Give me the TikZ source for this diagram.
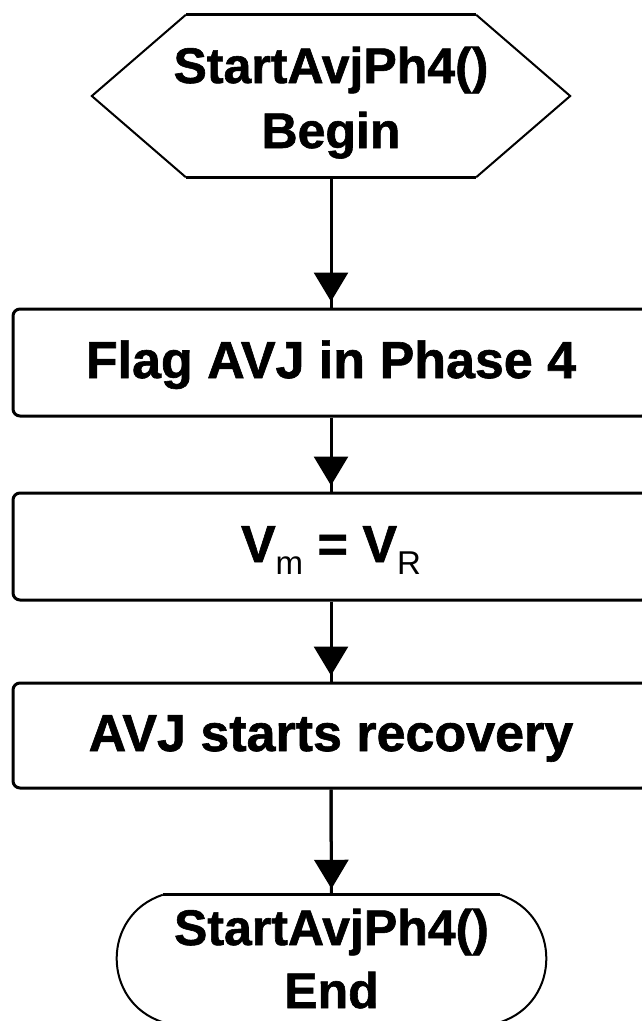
\documentclass[tikz,border=0pt]{standalone}
\usepackage{fontspec}
\usepackage{graphicx}
\setmainfont{Liberation Sans}[BoldFeatures={FakeBold=1.2}]
\usetikzlibrary{arrows.meta,calc}
\tikzset{
  stepbox/.style={draw, line width=3pt, rounded corners=7pt, minimum width=636pt,
    minimum height=107pt, inner sep=0pt, font=\fontsize{52}{60}\selectfont\bfseries,
    text height=38pt, text depth=7pt},
  shapetext/.style={inner sep=0pt, font=\fontsize{50}{65}\selectfont\bfseries},
  thickedge/.style={line width=3pt},
  thinedge/.style={line width=2pt},
  flow/.style={line width=3pt,
    postaction={draw, -{Triangle[width=34pt,length=29pt]}, shorten >=6pt}},
}
\newcommand{\lowsub}[1]{\raisebox{-12pt}{\fontsize{33}{33}\selectfont\mdseries #1}}
\begin{document}
\begin{tikzpicture}[x=1pt,y=-1pt]
\useasboundingbox (0,0) rectangle (642,1021);
% start hexagon
\node[shapetext, minimum width=290pt, minimum height=162pt] (h) at (331,96)
  {\makebox[0pt]{\raisebox{0pt}[40pt][66pt]{\begin{tabular}[t]{@{}c@{}}StartAvjPh4()\\Begin\end{tabular}}}};
\draw[thickedge] (h.north west) -- (h.north east) (h.south west) -- (h.south east);
\draw[thinedge] (h.north east) -- ($(h.east)+(94,0)$) -- (h.south east)
                (h.north west) -- ($(h.west)+(-94,0)$) -- (h.south west);
% process boxes
\node[stepbox] (b1) at (331,362.5) {Flag AVJ in Phase 4};
\node[stepbox] (b2) at (331,546.5) {V\lowsub{m} = V\lowsub{R}};
\node[stepbox, minimum height=105pt] (b3) at (331,735.5) {AVJ starts recovery};
% end terminator
\node[shapetext, minimum width=337pt, minimum height=127pt] (t) at (331.5,958.5)
  {\makebox[0pt]{\raisebox{0pt}[40pt][67pt]{\fontsize{50}{63}\selectfont\begin{tabular}[t]{@{}c@{}}StartAvjPh4()\\End\end{tabular}}}};
\draw[thickedge] (t.north west) -- (t.north east) (t.south west) -- (t.south east);
\draw[thinedge] (t.north west) .. controls +(-61.5,20) and +(-61.5,-20) .. (t.south west);
\draw[thinedge] (t.north east) .. controls +(61.5,20) and +(61.5,-20) .. (t.south east);
% connectors
\draw[flow] (h.south) -- (b1.north);
\draw[flow] (b1.south) -- (b2.north);
\draw[flow] (b2.south) -- (b3.north);
\draw[flow] (b3.south) -- (t.north);
\end{tikzpicture}
\end{document}
